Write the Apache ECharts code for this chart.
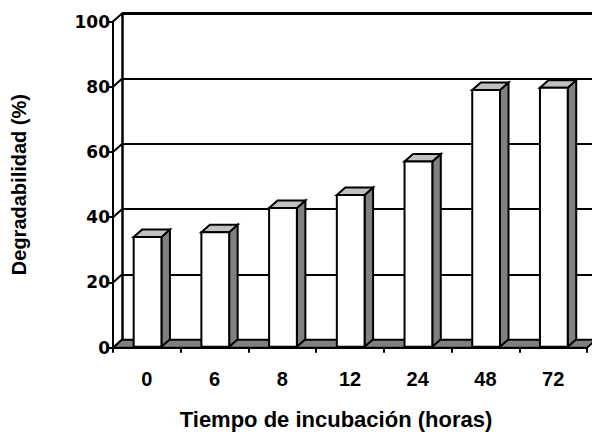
<!DOCTYPE html>
<html><head><meta charset="utf-8">
<script src="https://cdn.jsdelivr.net/npm/echarts@6/dist/echarts.min.js"></script>
<style>html,body{margin:0;padding:0;background:#fff}#c{width:592px;height:436px}</style>
</head><body><div id="c"></div>
<script>
// ---- data ----
const categories = ['0', '6', '8', '12', '24', '48', '72'];
const values = [33.9, 35.4, 42.8, 46.8, 57.1, 79.0, 79.7];
const yTicks = [0, 20, 40, 60, 80, 100];
const xTitle = 'Tiempo de incubación (horas)';
const yTitle = 'Degradabilidad (%)';

// ---- style ----
const DX = 9, DY = -8;        // depth offset of the back wall
const BDX = 8.5, BDY = -7.5;  // bar depth offset
const FONT = '"Liberation Sans", Arial, sans-serif';
const YFONT = '"DejaVu Sans", Verdana, sans-serif';
const G = {left: 113, right: 5, top: 21.5, bottom: 88.3};

const chart = echarts.init(document.getElementById('c'), null, {renderer: 'svg'});

function edges(api, v) {
  const band = api.size([1, 0])[0];
  const L = api.coord([0, v])[0] - band / 2;
  const R = api.coord([categories.length - 1, v])[0] + band / 2;
  return {L, R, y: api.coord([0, v])[1], band};
}

const option = {
  animation: false,
  backgroundColor: '#fff',
  grid: [
    {left: G.left, right: G.right, top: G.top, bottom: G.bottom},
    {left: G.left + DX, right: G.right - DX, top: G.top + DY, bottom: G.bottom - DY}
  ],
  xAxis: [
    {
      type: 'category', gridIndex: 0, data: categories,
      axisLine: {show: true, lineStyle: {color: '#000', width: 2}},
      axisTick: {show: true, length: 5, lineStyle: {color: '#000', width: 2}},
      axisLabel: {color: '#000', fontFamily: FONT, fontWeight: 'bold', fontSize: 20, margin: 21},
      splitLine: {show: false},
      name: xTitle, nameLocation: 'middle', nameGap: 61,
      nameTextStyle: {color: '#000', fontFamily: FONT, fontWeight: 'bold', fontSize: 22, padding: [0, 28, 0, 0]},
      z: 3
    },
    {
      type: 'category', gridIndex: 1, data: categories, show: false
    }
  ],
  yAxis: [
    {
      type: 'value', gridIndex: 0, min: 0, max: 100, interval: 20,
      axisLine: {show: true, lineStyle: {color: '#000', width: 2}},
      axisTick: {show: true, length: 5, lineStyle: {color: '#000', width: 2}},
      axisLabel: {color: '#000', fontFamily: YFONT, fontWeight: 'bold', fontSize: 17, margin: 3},
      splitLine: {show: false},
      name: yTitle, nameLocation: 'middle', nameGap: 84, nameRotate: 90,
      nameTextStyle: {color: '#000', fontFamily: FONT, fontWeight: 'bold', fontSize: 20},
      z: 3
    },
    {
      type: 'value', gridIndex: 1, min: 0, max: 100, interval: 20,
      axisLine: {show: true, lineStyle: {color: '#000', width: 2.5}},
      axisTick: {show: false}, axisLabel: {show: false},
      splitLine: {show: true, lineStyle: {color: '#000', width: 2}}
    }
  ],
  series: [
    {
      // side-wall gridlines (front-left to back-left)
      type: 'custom', xAxisIndex: 0, yAxisIndex: 0, z: 1,
      data: yTicks.map(v => [0, v]),
      encode: {x: 0, y: 1},
      renderItem: function (params, api) {
        const v = api.value(1);
        const e = edges(api, v);
        const children = [{type: 'line', shape: {x1: e.L, y1: e.y, x2: e.L + DX, y2: e.y + DY},
          style: {stroke: '#000', lineWidth: 2}}];
        if (v === 100) {
          children.push({type: 'line', shape: {x1: e.L + DX, y1: e.y + DY, x2: e.R + DX, y2: e.y + DY},
            style: {stroke: '#000', lineWidth: 3}});
        }
        return {type: 'group', children};
      }
    },
    {
      // floor
      type: 'custom', xAxisIndex: 0, yAxisIndex: 0, z: 2,
      data: [[0, 0]],
      encode: {x: 0, y: 1},
      renderItem: function (params, api) {
        const e = edges(api, 0);
        return {type: 'polygon', shape: {points: [[e.L, e.y], [e.R, e.y], [e.R + DX, e.y + DY], [e.L + DX, e.y + DY]]},
          style: {fill: '#808080', stroke: '#000', lineWidth: 2}};
      }
    },
    {
      // 3D bars
      type: 'custom', xAxisIndex: 0, yAxisIndex: 0, z: 4,
      data: values.map((v, i) => [i, v]),
      encode: {x: 0, y: 1},
      renderItem: function (params, api) {
        const i = api.value(0), v = api.value(1);
        const c = api.coord([i, v]), b = api.coord([i, 0]);
        const band = api.size([1, 0])[0];
        const w = band * 0.41;
        const x0 = c[0] - w / 2 + 0.7, x1 = x0 + w, yt = c[1], yb = b[1] - 1;
        const st = (f) => ({fill: f, stroke: '#000', lineWidth: 2, lineJoin: 'miter'});
        return {type: 'group', children: [
          {type: 'polygon', shape: {points: [[x1, yt], [x1 + BDX, yt + BDY], [x1 + BDX, yb + BDY], [x1, yb]]}, style: st('#808080')},
          {type: 'polygon', shape: {points: [[x0, yt], [x1, yt], [x1 + BDX, yt + BDY], [x0 + BDX, yt + BDY]]}, style: st('#c0c0c0')},
          {type: 'polygon', shape: {points: [[x0, yt], [x1, yt], [x1, yb], [x0, yb]]}, style: st('#ffffff')}
        ]};
      }
    }
  ]
};
chart.setOption(option);
</script>
</body></html>
